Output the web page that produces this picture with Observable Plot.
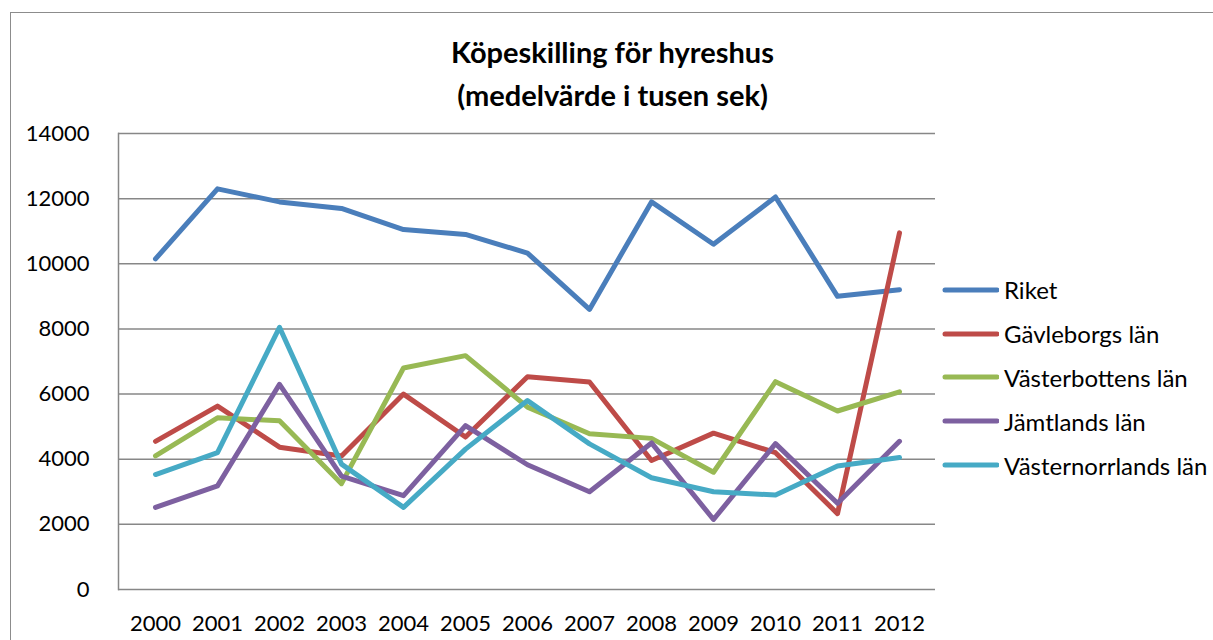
<!DOCTYPE html>
<html>
<head>
<meta charset="utf-8">
<script src="https://cdn.jsdelivr.net/npm/d3@7"></script>
<script src="https://cdn.jsdelivr.net/npm/@observablehq/plot@0.6"></script>
<style>
  html, body { margin: 0; padding: 0; width: 1213px; height: 640px; overflow: hidden; background: #fff; font-family: Lato, "Open Sans", sans-serif; }
  #frame { position: absolute; left: 10px; top: 12px; width: 1400px; height: 800px; border: 1.5px solid #8c8c8c; box-sizing: border-box; }
  #title { position: absolute; left: 10px; width: 1205px; top: 30px; text-align: center; font-weight: bold; font-size: 29px; line-height: 43px; color: #000; }
  #chart { position: absolute; left: 0; top: 120px; }
  #legend { position: absolute; left: 941px; top: 268px; font-size: 24px; color: #000; }
  .item { height: 43.8px; display: flex; align-items: center; white-space: nowrap; }
  .item svg { margin-right: 5px; }
</style>
</head>
<body>
<div id="frame"></div>
<div id="title">Köpeskilling för hyreshus<br>(medelvärde i tusen sek)</div>
<div id="chart"></div>
<div id="legend"></div>
<script>
const years = ["2000","2001","2002","2003","2004","2005","2006","2007","2008","2009","2010","2011","2012"];
const seriesNames = ["Riket", "Gävleborgs län", "Västerbottens län", "Jämtlands län", "Västernorrlands län"];
const seriesColors = ["#4A7EBB", "#BE4B48", "#98B954", "#7D60A0", "#46AAC5"];
const riket          = [10150, 12300, 11900, 11700, 11050, 10900, 10330, 8600, 11900, 10600, 12050, 9000, 9200];
const gavleborg      = [4550, 5630, 4370, 4100, 6000, 4680, 6530, 6370, 3960, 4800, 4200, 2330, 10950];
const vasterbotten   = [4100, 5270, 5180, 3250, 6800, 7180, 5600, 4780, 4640, 3600, 6380, 5480, 6070];
const jamtland       = [2520, 3180, 6300, 3480, 2880, 5030, 3830, 3000, 4500, 2150, 4480, 2650, 4550];
const vasternorrland = [3530, 4200, 8050, 3850, 2520, 4310, 5800, 4470, 3430, 3000, 2900, 3790, 4050];
const yTicks = [0, 2000, 4000, 6000, 8000, 10000, 12000, 14000];

const allValues = [riket, gavleborg, vasterbotten, jamtland, vasternorrland];
const data = [];
allValues.forEach((vals, i) => {
  vals.forEach((v, j) => data.push({series: seriesNames[i], year: years[j], value: v}));
});

const chart = Plot.plot({
  width: 1213,
  height: 520,
  marginTop: 13,
  marginBottom: 51,
  marginLeft: 118,
  marginRight: 278,
  style: { fontFamily: "Lato, 'Open Sans', sans-serif", fontSize: "22px", color: "#000", background: "transparent" },
  x: { type: "point", domain: years, padding: 0.5, label: null },
  y: { domain: [0, 14000], label: null },
  color: { domain: seriesNames, range: seriesColors },
  marks: [
    Plot.gridY(yTicks, { stroke: "#878787", strokeOpacity: 1, strokeWidth: 1.5 }),
    Plot.frame({ anchor: "left", stroke: "#878787", strokeWidth: 1.5 }),
    Plot.axisY(yTicks, { tickSize: 0, tickPadding: 29, tickFormat: d => String(d), fontSize: 22 }),
    Plot.axisX({ tickSize: 0, tickPadding: 26, fontSize: 22 }),
    Plot.line(data, { x: "year", y: "value", z: "series", stroke: "series", strokeWidth: 5, strokeLinejoin: "round", strokeLinecap: "round" })
  ]
});
document.getElementById("chart").appendChild(chart);

const legend = document.getElementById("legend");
seriesNames.forEach((name, i) => {
  const div = document.createElement("div");
  div.className = "item";
  div.innerHTML = `<svg width="58" height="10"><line x1="4" y1="5" x2="56" y2="5" stroke="${seriesColors[i]}" stroke-width="5" stroke-linecap="round"/></svg><span>${name}</span>`;
  legend.appendChild(div);
});
</script>
</body>
</html>
